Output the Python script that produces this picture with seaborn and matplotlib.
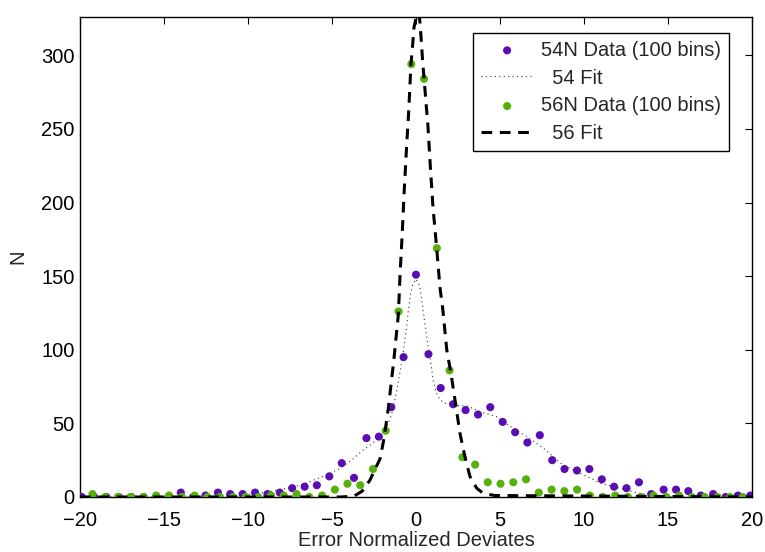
import numpy as np
import pandas as pd
import matplotlib
matplotlib.use("Agg")
import matplotlib.pyplot as plt
import seaborn as sns

# ---- data ----
x54 = [-19.90, -19.16, -18.43, -17.69, -16.95, -16.21, -15.48, -14.74, -14.00, -13.27,
       -12.53, -11.79, -11.06, -10.32, -9.58, -8.84, -8.11, -7.37, -6.63, -5.90,
       -5.16, -4.42, -3.69, -2.95, -2.21, -1.47, -0.74, 0.00, 0.74, 1.47,
       2.21, 2.95, 3.69, 4.42, 5.16, 5.90, 6.63, 7.37, 8.11, 8.84,
       9.58, 10.32, 11.06, 11.79, 12.53, 13.27, 14.00, 14.74, 15.48, 16.21,
       16.95, 17.69, 18.43, 19.16, 19.90]
n54 = [0, 0, 0, 0, 0, 0, 0, 0, 3, 0,
       1, 3, 2, 2, 3, 2, 3, 6, 7, 8,
       14, 23, 13, 40, 41, 61, 95, 151, 97, 74,
       63, 59, 56, 61, 51, 44, 37, 42, 25, 19,
       18, 19, 12, 7, 6, 10, 2, 5, 5, 4,
       1, 2, 0, 1, 1]

x56 = [-19.26, -18.50, -17.74, -16.98, -16.22, -15.46, -14.70, -13.94, -13.18, -12.42,
       -11.67, -10.91, -10.15, -9.39, -8.63, -7.87, -7.11, -6.35, -5.59, -4.83,
       -4.08, -3.32, -2.56, -1.80, -1.04, -0.28, 0.48, 1.24, 2.00, 2.76,
       3.52, 4.27, 5.03, 5.79, 6.55, 7.31, 8.07, 8.83, 9.59, 10.35,
       11.11, 11.86, 12.62, 13.38, 14.14, 14.90, 15.66, 16.42, 17.18, 17.94,
       18.69, 19.45]
n56 = [2, 0, 0, 0, 0, 1, 1, 0, 1, 0,
       0, 0, 0, 0, 1, 1, 2, 0, 1, 5,
       9, 8, 19, 45, 126, 294, 284, 169, 86, 27,
       22, 10, 9, 10, 12, 3, 5, 4, 5, 1,
       0, 1, 0, 0, 1, 0, 1, 0, 0, 0,
       0, 0]

# fit curves
fit54_x = [-20, -15, -13, -11, -9.5, -8.5, -7.7, -6.9, -5.8, -5.12, -4.52, -3.83, -3.14,
           -2.64, -2.2, -1.8, -1.45, -1.15, -0.95, -0.8, -0.6, -0.46, -0.32, -0.2, 0.0,
           0.2, 0.3, 0.43, 0.6, 0.73, 0.87, 1.03, 1.2, 1.43, 1.83, 2.4, 3.0, 3.8, 4.8,
           5.6, 6.6, 7.6, 8.6, 9.8, 11.0, 12.1, 13.3, 14.7, 16, 20]
fit54_y = [0, 0, 0.2, 0.8, 2.2, 4, 5.9, 8, 12.7, 16, 19.5, 25, 32,
           36, 40, 46, 56, 72, 85, 95, 112, 126, 138, 144, 148,
           144, 138, 126, 112, 102, 92, 79, 71, 66, 63, 62, 62, 58, 54.5,
           48, 41, 33, 23, 16, 9.3, 6, 2.5, 0.5, 0, 0]

fit56_x = [-20, -4.5, -3.7, -3.2, -2.74, -2.14, -1.9, -1.65, -1.45, -1.31, -1.19, -1.05,
           -0.95, -0.82, -0.71, -0.58, -0.43, -0.30, -0.22, -0.12, 0.0, 0.08, 0.17,
           0.24, 0.32, 0.40, 0.49, 0.60, 0.70, 0.85, 1.01, 1.23, 1.43, 1.59, 1.83,
           2.08, 2.32, 2.62, 2.92, 3.21, 3.61, 4.0, 4.7, 20]
fit56_y = [0, 0, 0.5, 4, 11.5, 26, 40, 60, 80, 94, 108, 124,
           151, 179, 206, 234, 263, 294, 304, 319, 325, 328, 329,
           322, 309, 295, 283, 267, 254, 225, 197, 169, 142, 128, 100,
           84, 66, 43, 27, 14, 6, 2.5, 1, 0]

labels = ["54N Data (100 bins)", "  54 Fit", "56N Data (100 bins)", "  56 Fit"]
purple = "#5a0cb5"
green = "#56b10a"
FS = 14.5

sns.set_style("white")
plt.rcParams["font.family"] = ["Liberation Sans", "DejaVu Sans"]

fig = plt.figure(figsize=(7.65, 5.52), dpi=100)
ax = fig.add_axes([80 / 765, 1 - 497 / 552, (752 - 80) / 765, (497 - 17) / 552])

d54 = pd.DataFrame({"x": x54, "n": n54})
d56 = pd.DataFrame({"x": x56, "n": n56})
f54 = pd.DataFrame({"x": fit54_x, "y": fit54_y})
f56 = pd.DataFrame({"x": fit56_x, "y": fit56_y})

sns.scatterplot(data=d54, x="x", y="n", color=purple, s=34, edgecolor="none",
                label=labels[0], ax=ax, zorder=3)
sns.lineplot(data=f54, x="x", y="y", color="#333333", lw=0.8, linestyle=(0, (1, 3)),
             label=labels[1], ax=ax, zorder=3)
sns.scatterplot(data=d56, x="x", y="n", color=green, s=34, edgecolor="none",
                label=labels[2], ax=ax, zorder=4)
sns.lineplot(data=f56, x="x", y="y", color="black", lw=2.2, linestyle=(0, (3.5, 2.5)),
             label=labels[3], ax=ax, zorder=5)

ax.set_xlim(-20, 20)
ax.set_ylim(0, 326)
ax.set_xticks(np.arange(-20, 21, 5))
ax.set_yticks(np.arange(0, 301, 50))
ax.set_xlabel("Error Normalized Deviates", fontsize=FS, labelpad=0.5)
ax.set_ylabel("N", fontsize=FS, labelpad=10)
ax.tick_params(direction="in", top=True, right=True, length=5, width=0.8,
               labelsize=FS, colors="black", pad=4)
ax.tick_params(axis="x", pad=10)
for s in ax.spines.values():
    s.set_color("black")
    s.set_linewidth(1.0)

leg = ax.legend(loc="upper right", bbox_to_anchor=(1 - 23 / 672, 1 - 16 / 480),
                borderaxespad=0, fontsize=FS,
                frameon=True, fancybox=False, edgecolor="black", framealpha=1,
                handlelength=2.6, borderpad=0.38, labelspacing=0.44, handletextpad=0.4)
leg.get_frame().set_linewidth(1.0)

fig.savefig("out.png", dpi=100)
